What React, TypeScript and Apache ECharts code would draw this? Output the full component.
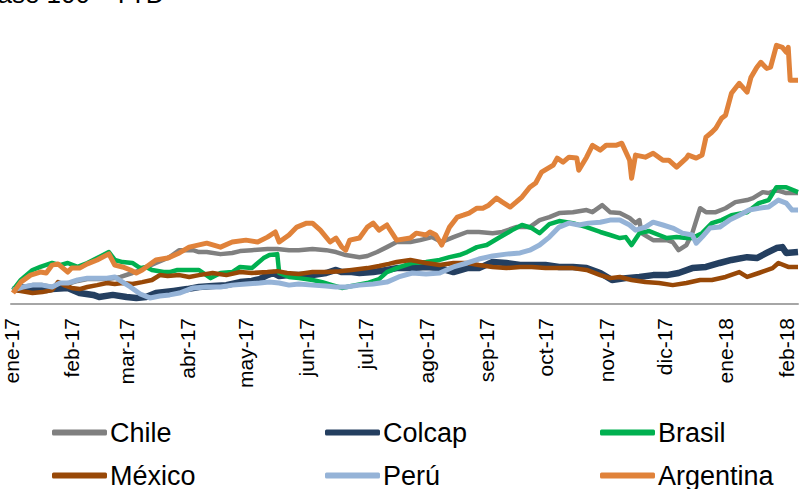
import React, { useEffect, useRef } from "react";
import * as echarts from "echarts";

// Day index counted from 1 Jan 2017; month starts used for the axis labels
const monthStarts = [0, 31, 59, 90, 120, 151, 181, 212, 243, 273, 304, 334, 365, 396];
const monthLabels = [
  "ene-17", "feb-17", "mar-17", "abr-17", "may-17", "jun-17", "jul-17",
  "ago-17", "sep-17", "oct-17", "nov-17", "dic-17", "ene-18", "feb-18",
];

const seriesNames = ["Chile", "Colcap", "Brasil", "México", "Perú", "Argentina"];
const seriesColors = ["#808080", "#243F60", "#00B050", "#984807", "#95B3D7", "#E0823A"];
const seriesWidths = [4.5, 6.5, 4.5, 4.5, 5, 5];

// Index values, base 100 at the first trading day of 2017: [day, value]
const chile: [number, number][] = [
  [1, 100], [6, 101.3], [11, 102.1], [16, 102.1], [21, 101.3], [25, 102.6], [29, 102.6],
  [34, 103.9], [39, 104.7], [44, 104.7], [49, 104.7], [53, 105.1], [56, 105.6], [62, 107.3],
  [66, 108.6], [74, 111.6], [81, 114.1], [86, 117.1], [93, 117.1], [96, 116.3], [100, 116.3],
  [107, 115.4], [113, 115.9], [117, 116.7], [123, 117.1], [131, 117.6], [136, 117.6],
  [142, 117.1], [147, 117.1], [154, 117.6], [161, 117.1], [166, 116.3], [171, 115.0],
  [178, 114.1], [182, 114.6], [187, 116.3], [192, 118.4], [197, 120.6], [204, 120.6],
  [209, 121.4], [215, 122.7], [220, 120.6], [226, 122.7], [233, 124.9], [239, 124.9],
  [246, 124.4], [251, 124.9], [258, 127.0], [265, 127.0], [270, 130.0], [275, 131.3],
  [280, 133.0], [287, 133.4], [294, 134.3], [297, 133.4], [302, 136.4], [306, 133.4],
  [311, 133.0], [316, 130.9], [319, 128.7], [321, 130.0], [322, 124.4], [328, 121.4],
  [335, 121.4], [338, 120.6], [341, 117.1], [345, 119.3], [348, 124.4], [352, 135.1],
  [355, 133.4], [360, 133.4], [365, 135.1], [370, 137.7], [376, 138.6], [379, 139.4],
  [384, 142.0], [387, 141.6], [391, 142.9], [396, 141.6], [402, 141.6],
];

const colcap: [number, number][] = [
  [1, 100], [5, 101.3], [11, 100.4], [18, 100.0], [21, 100.4], [29, 100.9], [35, 98.7],
  [42, 97.9], [45, 97.0], [52, 97.9], [59, 97.0], [64, 96.6], [69, 97.0], [74, 98.7],
  [83, 99.6], [90, 100.4], [96, 101.3], [103, 101.7], [110, 102.1], [117, 103.4],
  [123, 103.9], [127, 104.7], [131, 106.4], [134, 107.3], [137, 106.0], [142, 106.4],
  [147, 106.4], [154, 106.4], [161, 107.3], [166, 108.6], [169, 107.7], [174, 107.7],
  [178, 107.3], [185, 107.7], [192, 108.6], [197, 109.4], [205, 109.4], [212, 109.9],
  [219, 109.4], [226, 107.7], [233, 109.4], [239, 109.4], [246, 112.0], [253, 111.6],
  [260, 110.7], [266, 110.7], [273, 110.7], [280, 109.9], [287, 109.9], [294, 109.4],
  [301, 107.3], [307, 104.3], [314, 105.1], [321, 105.6], [328, 106.4], [335, 106.4],
  [341, 107.3], [348, 109.4], [355, 109.9], [362, 111.6], [368, 112.9], [376, 114.1],
  [381, 113.7], [386, 115.9], [391, 118.0], [394, 118.4], [396, 115.9], [402, 116.3],
];

const brasil: [number, number][] = [
  [1, 100], [5, 104.3], [11, 108.6], [15, 109.9], [21, 111.6], [25, 110.7], [29, 111.6],
  [34, 109.9], [39, 111.6], [44, 113.7], [50, 116.3], [53, 112.9], [57, 112.0], [62, 111.6],
  [66, 109.4], [69, 109.9], [72, 108.6], [78, 107.7], [81, 107.7], [85, 108.6], [90, 108.6],
  [96, 108.6], [102, 105.1], [107, 107.3], [113, 107.7], [117, 109.9], [123, 109.4],
  [129, 113.7], [132, 115.0], [136, 115.4], [137, 107.3], [142, 105.6], [147, 105.1],
  [154, 104.3], [159, 103.4], [164, 102.1], [169, 100.9], [174, 101.7], [182, 103.0],
  [188, 104.7], [192, 107.7], [197, 109.4], [205, 111.6], [212, 112.0], [219, 112.9],
  [224, 114.1], [229, 115.0], [233, 116.3], [238, 118.4], [243, 119.3], [249, 122.3],
  [256, 125.7], [261, 127.9], [266, 126.6], [270, 124.4], [275, 128.3], [280, 129.6],
  [287, 128.7], [294, 127.0], [301, 124.9], [306, 123.6], [311, 122.3], [314, 122.7],
  [317, 119.3], [321, 124.4], [326, 125.3], [331, 123.6], [335, 122.3], [340, 122.7],
  [345, 122.3], [348, 122.3], [353, 124.4], [358, 128.7], [363, 130.0], [368, 132.1],
  [376, 133.4], [382, 137.3], [387, 138.6], [391, 144.1], [396, 144.1], [402, 142.0],
];

const mexico: [number, number][] = [
  [1, 100], [5, 99.6], [11, 98.7], [16, 99.1], [21, 100.0], [24, 103.4], [27, 102.1],
  [31, 100.9], [35, 100.4], [39, 101.3], [44, 102.1], [49, 103.0], [53, 102.6], [57, 103.0],
  [62, 102.6], [67, 103.4], [72, 104.3], [76, 106.4], [80, 106.0], [86, 106.4], [91, 105.6],
  [96, 106.4], [103, 107.3], [110, 106.4], [117, 107.7], [123, 107.3], [131, 107.7],
  [136, 108.1], [141, 107.3], [147, 106.9], [154, 107.7], [161, 107.7], [168, 108.1],
  [174, 108.6], [182, 109.4], [188, 110.3], [193, 111.2], [197, 112.0], [204, 112.9],
  [212, 111.6], [219, 110.7], [226, 111.6], [233, 111.6], [239, 110.7], [246, 109.9],
  [253, 109.4], [260, 109.9], [266, 109.9], [273, 109.4], [280, 109.4], [287, 109.4],
  [294, 108.6], [301, 106.4], [306, 105.1], [311, 105.6], [317, 104.3], [324, 103.4],
  [331, 103.0], [338, 102.1], [345, 103.0], [352, 104.3], [358, 104.3], [365, 105.6],
  [372, 107.7], [376, 105.6], [382, 107.3], [389, 109.4], [392, 111.6], [397, 109.9],
  [402, 109.9],
];

const peru: [number, number][] = [
  [1, 100], [6, 101.3], [11, 102.1], [16, 102.1], [21, 101.3], [25, 103.0], [29, 103.0],
  [34, 104.3], [39, 105.1], [44, 105.1], [49, 105.1], [53, 105.6], [57, 103.4], [61, 101.3],
  [66, 98.3], [71, 96.6], [76, 97.4], [81, 97.9], [86, 98.7], [93, 100.9], [100, 101.3],
  [107, 101.3], [113, 102.1], [120, 102.6], [127, 103.0], [132, 103.4], [137, 103.0],
  [142, 102.1], [147, 102.6], [154, 102.1], [161, 101.7], [166, 101.3], [171, 101.3],
  [178, 102.1], [185, 102.6], [192, 103.4], [198, 105.6], [205, 107.3], [212, 106.9],
  [219, 107.3], [226, 109.9], [233, 111.6], [239, 113.3], [246, 114.6], [253, 115.4],
  [260, 115.9], [265, 117.1], [270, 119.3], [275, 122.7], [280, 127.0], [285, 128.7],
  [290, 127.9], [295, 128.7], [301, 129.1], [306, 130.0], [311, 130.0], [316, 127.9],
  [319, 125.7], [324, 127.0], [328, 129.1], [333, 127.9], [338, 126.6], [343, 124.4],
  [348, 123.6], [350, 120.1], [353, 122.7], [357, 126.6], [362, 127.0], [367, 130.0],
  [372, 132.1], [377, 134.3], [382, 135.1], [387, 135.6], [392, 138.6], [396, 137.3],
  [399, 134.3], [402, 134.3],
];

const argentina: [number, number][] = [
  [1, 98.7], [5, 103.4], [10, 106.4], [15, 107.7], [18, 107.3], [21, 110.7], [24, 111.2],
  [29, 107.7], [31, 109.4], [35, 109.4], [39, 111.2], [44, 112.9], [50, 115.5], [53, 110.7],
  [57, 109.9], [61, 108.6], [64, 107.3], [67, 108.6], [74, 112.9], [80, 113.7], [86, 115.9],
  [91, 118.4], [100, 120.1], [107, 118.4], [113, 120.6], [120, 121.4], [126, 120.6],
  [131, 122.7], [135, 124.9], [137, 120.6], [142, 123.6], [146, 127.0], [151, 128.7],
  [154, 128.7], [158, 125.7], [163, 120.6], [166, 122.3], [169, 118.4], [171, 117.1],
  [173, 121.4], [178, 122.3], [182, 127.0], [185, 128.7], [188, 125.7], [192, 127.9],
  [197, 121.4], [204, 122.3], [207, 124.4], [212, 123.6], [214, 124.9], [217, 123.6],
  [220, 119.3], [224, 127.0], [228, 131.3], [231, 132.1], [234, 133.0], [238, 135.1],
  [241, 135.1], [244, 136.4], [248, 139.4], [251, 137.7], [255, 135.6], [258, 137.7],
  [261, 139.9], [265, 144.1], [268, 145.9], [271, 150.6], [277, 153.6], [279, 156.6],
  [282, 154.9], [285, 157.0], [289, 156.6], [290, 151.4], [294, 157.0], [297, 162.1],
  [301, 160.0], [304, 162.1], [309, 162.1], [312, 163.0], [316, 155.7], [317, 148.0],
  [319, 157.9], [324, 157.0], [328, 158.7], [333, 155.7], [336, 155.7], [340, 152.7],
  [345, 156.6], [346, 157.9], [350, 156.6], [353, 157.9], [355, 165.6], [358, 167.7],
  [360, 169.4], [363, 173.7], [365, 175.0], [368, 184.4], [372, 188.7], [376, 184.9],
  [378, 191.3], [381, 195.6], [383, 197.7], [386, 195.1], [388, 195.6], [391, 205.0],
  [394, 204.1], [396, 202.0], [397, 204.1], [398, 190.0], [402, 190.0],
];

const seriesData = [chile, colcap, brasil, mexico, peru, argentina];

const FONT = '"Liberation Sans", Arial, sans-serif';

// Legend grid: three columns, two rows
const legendColumns = [52, 325, 600];
const legendRows = [419, 462];

export default function App() {
  const ref = useRef<HTMLDivElement>(null);

  useEffect(() => {
    if (!ref.current) return;
    const chart = echarts.init(ref.current, undefined, { renderer: "svg" });

    const legends = seriesNames.map((name, i) => ({
      left: legendColumns[i % 3],
      top: legendRows[Math.floor(i / 3)],
      padding: 0,
      orient: "horizontal" as const,
      icon: "roundRect",
      itemWidth: 55,
      itemHeight: 6,
      itemGap: 0,
      selectedMode: false,
      textStyle: { fontSize: 27, color: "#000", fontFamily: FONT, padding: [0, 0, 0, -2] },
      data: [name],
    }));

    chart.setOption({
      animation: false,
      backgroundColor: "#fff",
      grid: { left: 11, right: 4, top: 22, bottom: 185 },
      xAxis: {
        type: "value",
        min: 0,
        max: 402,
        splitLine: { show: false },
        axisTick: { show: false },
        axisLine: { show: true, lineStyle: { color: "#A6A6A6", width: 2 } },
        axisLabel: {
          customValues: monthStarts,
          rotate: 90,
          margin: 14,
          fontSize: 21,
          color: "#000",
          fontFamily: FONT,
          formatter: (v: number) => monthLabels[monthStarts.indexOf(v)] ?? "",
        },
      },
      yAxis: {
        type: "value",
        min: 94,
        max: 215,
        show: false,
        splitLine: { show: false },
      },
      legend: legends,
      graphic: [
        {
          type: "text",
          x: -17,
          y: -19,
          style: { text: "base 100 - YTD", font: `26px ${FONT}`, fill: "#000" },
        },
      ],
      series: seriesNames.map((name, i) => ({
        name,
        type: "line",
        data: seriesData[i],
        showSymbol: false,
        symbol: "none",
        itemStyle: { color: seriesColors[i] },
        lineStyle: { color: seriesColors[i], width: seriesWidths[i], join: "round" },
      })),
    });

    return () => chart.dispose();
  }, []);

  return (
    <div
      ref={ref}
      style={{ position: "absolute", left: 0, top: 0, width: 802, height: 489 }}
    />
  );
}
